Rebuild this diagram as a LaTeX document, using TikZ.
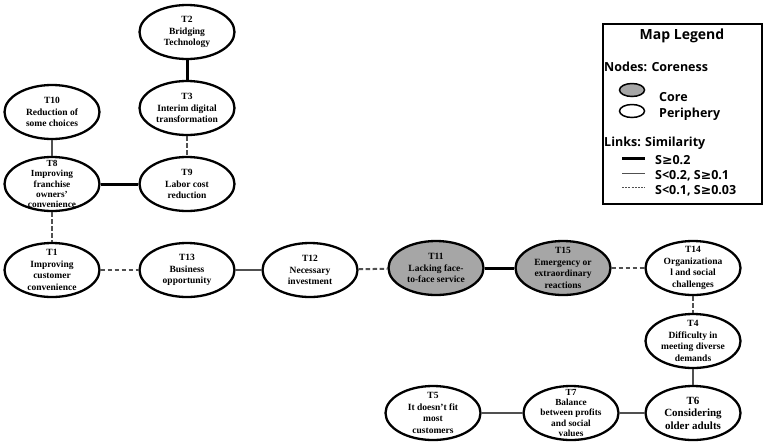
\documentclass[tikz,border=0pt]{standalone}
\usepackage{fontspec}
\setmainfont{Liberation Serif}
\newfontfamily\legfont{Open Sans}
\newfontfamily\symfont{DejaVu Sans}
\usetikzlibrary{shapes.geometric}
\definecolor{coregray}{HTML}{A6A6A6}
\definecolor{edgegray}{HTML}{505050}
\newcommand{\mygeq}{{\symfont\bfseries ≥}}
\begin{document}
\begin{tikzpicture}[x=1pt,y=-1pt,
  topic/.style={ellipse, draw=black, line width=2.3pt, fill=white,
    minimum width=95pt, minimum height=54pt, inner sep=0pt},
  core/.style={topic, fill=coregray},
  tlabel/.style={align=center, inner sep=0pt, font=\bfseries\fontsize{9.5}{11.4}\selectfont},
  tightlabel/.style={align=center, inner sep=0pt, font=\bfseries\fontsize{9.3}{10.4}\selectfont},
  biglabel/.style={align=center, inner sep=0pt, font=\bfseries\fontsize{11}{12.5}\selectfont},
  strong/.style={line width=3pt, black},
  medium/.style={line width=2pt, edgegray},
  weak/.style={line width=2pt, edgegray, dash pattern=on 4.5pt off 2.5pt},
  legtext/.style={anchor=west, inner sep=0pt, font=\legfont\bfseries\fontsize{12.5}{14}\selectfont},
  legtitle/.style={inner sep=0pt, font=\legfont\bfseries\fontsize{14}{16}\selectfont},
  legell/.style={ellipse, draw=black, line width=1.5pt, minimum width=25pt, minimum height=13pt, inner sep=0pt},
]
\useasboundingbox (0,0) rectangle (767,445);

% nodes
\node[topic, label={[tlabel]center:{T2\\Bridging\\Technology}}] (T2) at (187,32) {};
\node[topic, label={[tlabel]center:{T3\\Interim digital\\transformation}}] (T3) at (187,108) {};
\node[topic, label={[tlabel]center:{T10\\Reduction of\\some choices}}] (T10) at (52,112) {};
\node[topic, label={[tightlabel]center:{T8\\Improving\\franchise\\owners’\\convenience}}] (T8) at (52,184) {};
\node[topic, label={[tlabel]center:{T9\\Labor cost\\reduction}}] (T9) at (187,184) {};
\node[topic, label={[tlabel]center:{T1\\Improving\\customer\\convenience}}] (T1) at (52,270) {};
\node[topic, label={[tlabel]center:{T13\\Business\\opportunity}}] (T13) at (187,270) {};
\node[topic, label={[tlabel]center:{T12\\Necessary\\investment}}] (T12) at (310,270) {};
\node[core, label={[tlabel]center:{T11\\Lacking face-\\to-face service}}] (T11) at (436,268) {};
\node[core, label={[tlabel]center:{T15\\Emergency or\\extraordinary\\reactions}}] (T15) at (563,268) {};
\node[topic, label={[tlabel]center:{T14\\Organizationa\\l and social\\challenges}}] (T14) at (693,268) {};
\node[topic, label={[tlabel]center:{T4\\Difficulty in\\meeting diverse\\demands}}] (T4) at (693,341) {};
\node[topic, label={[biglabel]center:{T6\\Considering\\older adults}}] (T6) at (693,413) {};
\node[topic, label={[tightlabel]center:{T7\\Balance\\between profits\\and social\\values}}] (T7) at (571,413) {};
\node[topic, label={[tlabel]center:{T5\\It doesn’t fit\\most\\customers}}] (T5) at (433,413) {};

% links
\draw[strong] (T2) -- (T3);
\draw[weak] (T3) -- (T9);
\draw[medium] (T10) -- (T8);
\draw[strong] (T8) -- (T9);
\draw[weak] (T8) -- (T1);
\draw[weak] (T1) -- (T13);
\draw[medium] (T13) -- (T12);
\draw[weak] (T12) -- (T11);
\draw[strong] (T11) -- (T15);
\draw[weak] (T15) -- (T14);
\draw[weak] (T14) -- (T4);
\draw[medium] (T4) -- (T6);
\draw[medium] (T6) -- (T7);
\draw[medium] (T7) -- (T5);

% legend
\node[draw=black, line width=1.8pt, minimum width=159pt, minimum height=180pt, inner sep=0pt, anchor=north west] (legend) at (602,23) {};
\node[legtitle] (ltitle) at (682,36) {Map Legend};
\node[legtext] (lnodes) at (604,67) {Nodes: Coreness};
\node[legell, fill=coregray] (lcore) at (632,90) {};
\node[legtext] (lcoret) at (659,97) {Core};
\node[legell, fill=white] (lper) at (632,111) {};
\node[legtext] (lpert) at (659,114) {Periphery};
\node[legtext] (llinks) at (604,143) {Links: Similarity};
\coordinate (la1) at (622,158); \coordinate (lb1) at (645,158);
\coordinate (la2) at (622,173); \coordinate (lb2) at (645,173);
\coordinate (la3) at (622,187); \coordinate (lb3) at (645,187);
\draw[line width=3pt, black] (la1) -- (lb1);
\draw[line width=1pt, edgegray] (la2) -- (lb2);
\draw[line width=0.9pt, edgegray, dash pattern=on 2pt off 1.2pt] (la3) -- (lb3);
\node[legtext] (ls1) at (655,160) {S\mygeq0.2};
\node[legtext] (ls2) at (655,176) {S<0.2, S\mygeq0.1};
\node[legtext] (ls3) at (655,191) {S<0.1, S\mygeq0.03};
\end{tikzpicture}
\end{document}
